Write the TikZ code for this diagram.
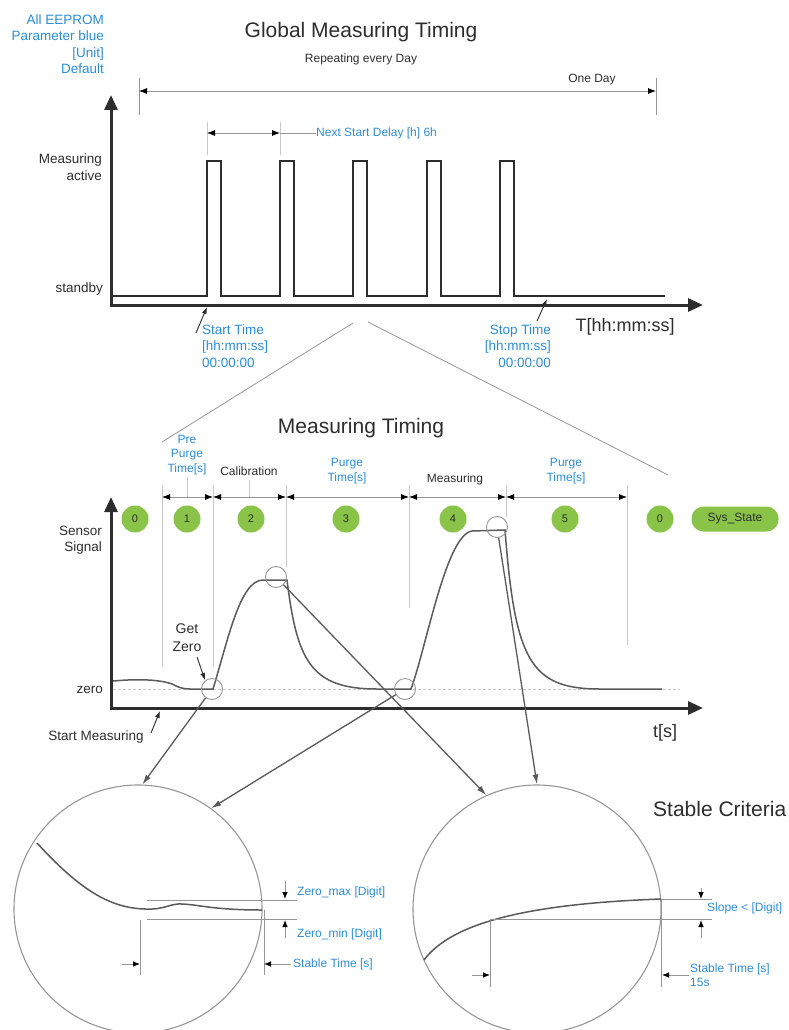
\documentclass[tikz,border=0pt]{standalone}
\usepackage{fontspec}
\setmainfont{Liberation Sans}
\usetikzlibrary{arrows.meta}
\definecolor{pblue}{RGB}{45,140,215}
\definecolor{sgreen}{RGB}{137,196,72}
\definecolor{dk}{RGB}{45,45,45}
\definecolor{lg}{RGB}{200,200,200}
\definecolor{cg}{RGB}{90,90,90}
\definecolor{mg}{RGB}{150,150,150}
\begin{document}
\begin{tikzpicture}[x=1pt,y=-1pt,
  txt/.style={inner sep=0pt, text=dk},
  f12/.style={font=\fontsize{12}{14.5}\selectfont},
  f13/.style={font=\fontsize{13.5}{16.5}\selectfont},
  f18/.style={font=\fontsize{18}{21}\selectfont},
  ttl/.style={inner sep=0pt, text=dk, font=\fontsize{21}{24}\selectfont},
  bl/.style={inner sep=0pt, text=pblue},
  axisline/.style={line width=3pt, draw=dk, -{Triangle[length=15pt,width=13pt]}},
  pulse/.style={line width=2pt, draw=dk, line join=miter},
  sig/.style={line width=1.5pt, draw=cg},
  guide/.style={draw=lg, line width=0.9pt},
  thinl/.style={draw=mg, line width=0.8pt},
  dimarrow/.style={draw=mg, line width=0.8pt, {Latex[length=8pt,width=6pt,color=black]}-{Latex[length=8pt,width=6pt,color=black]}},
  tipa/.style={draw=dk, line width=0.9pt, -{Latex[length=7pt,width=5pt]}},
  smalla/.style={draw=mg, line width=0.8pt, -{Latex[length=7pt,width=5.5pt,color=black]}},
  conn/.style={draw=cg, line width=1.3pt, -{Latex[length=10pt,width=6pt]}},
  zc/.style={circle, draw=mg, line width=0.9pt, minimum size=21pt, inner sep=0pt},
  bigc/.style={circle, draw=mg, line width=1.1pt, minimum size=248pt, inner sep=0pt},
  state/.style={circle, fill=sgreen, minimum size=27pt, inner sep=0pt, text=dk, font=\fontsize{11}{12}\selectfont},
]
\useasboundingbox (0,0) rectangle (789,1030);

% ---------- legend and titles ----------
\node[bl, f13, align=right, anchor=east] (legend) at (104,44) {All EEPROM\\Parameter blue\\{[Unit]}\\Default};
\node[ttl] (gtitle) at (361,32) {Global Measuring Timing};
\node[txt, f12] (repeat) at (361,59) {Repeating every Day};
\node[txt, f12] (oneday) at (592,80) {One Day};

% one day span
\draw[thinl] (139,78) -- (139,115);
\draw[thinl] (656,78) -- (656,115);
\coordinate (dayL) at (139,91);
\coordinate (dayR) at (656,91);
\draw[dimarrow] (dayL) -- (dayR);

% next start delay
\draw[guide] (207,122) -- (207,155);
\draw[guide] (280,122) -- (280,155);
\coordinate (nsL) at (207,133);
\coordinate (nsR) at (280,133);
\draw[dimarrow] (nsL) -- (nsR);
\node[bl, f12, anchor=west] (nsd) at (316,133) {Next Start Delay [h] 6h};
\draw[thinl] (nsR) -- (nsd.west);

% ---------- global chart ----------
\coordinate (o1) at (111,305);
\coordinate (y1) at (111,95);
\coordinate (x1) at (703,305);
\draw[axisline] ([yshift=-1.5pt]o1) -- (y1);
\draw[axisline] ([xshift=-1.5pt]o1) -- (x1);

\draw[pulse] (113,296) -- (207,296) -- (207,161) -- (221,161) -- (221,296)
  -- (280,296) -- (280,161) -- (294,161) -- (294,296)
  -- (353,296) -- (353,161) -- (367,161) -- (367,296)
  -- (427,296) -- (427,161) -- (441,161) -- (441,296)
  -- (500,296) -- (500,161) -- (514,161) -- (514,296) -- (665,296);

\node[txt, f13, align=right, anchor=east] (mact) at (102,167) {Measuring\\active};
\node[txt, f13, anchor=east] (stby) at (103,289) {standby};

\node[bl, f13, align=left, anchor=west] (sttime) at (202,346) {Start Time\\{[hh:mm:ss]}\\00:00:00};
\coordinate (stA) at (196,333);
\coordinate (stB) at (207,307);
\draw[tipa] (stA) -- (stB);

\node[bl, f13, align=right, anchor=east] (sptime) at (551,346) {Stop Time\\{[hh:mm:ss]}\\00:00:00};
\coordinate (spA) at (537,321);
\coordinate (spB) at (547,299);
\draw[tipa] (spA) -- (spB);

\node[txt, f18] (Tlab) at (625,327) {T[hh:mm:ss]};

% zoom lines
\coordinate (zl1) at (353,323);
\coordinate (zl2) at (162,442);
\coordinate (zr1) at (368,322);
\coordinate (zr2) at (668,475);
\draw[thinl] (zl1) -- (zl2);
\draw[thinl] (zr1) -- (zr2);

% ---------- measuring timing ----------
\node[ttl] (mtitle) at (361,428) {Measuring Timing};

\draw[guide] (162,485) -- (162,667);
\draw[guide] (213,485) -- (213,667);
\draw[guide] (286,485) -- (286,567);
\draw[guide] (409,485) -- (409,608);
\draw[guide] (506,485) -- (506,517);
\draw[guide] (627,485) -- (627,645);
\draw[guide] (187,477) -- (187,497);
\draw[guide] (249,480) -- (249,497);

\coordinate (b0) at (162,497);
\coordinate (b1) at (213,497);
\coordinate (b2) at (286,497);
\coordinate (b3) at (409,497);
\coordinate (b4) at (506,497);
\coordinate (b5) at (627,497);
\draw[dimarrow] (b0) -- (b1);
\draw[dimarrow] (b1) -- (b2);
\draw[dimarrow] (b2) -- (b3);
\draw[dimarrow] (b3) -- (b4);
\draw[dimarrow] (b4) -- (b5);

\node[bl, f12, align=center] (ppt) at (187,455) {Pre\\Purge\\Time[s]};
\node[txt, f12] (calib) at (249,471) {Calibration};
\node[bl, f12, align=center] (pt1) at (347,471) {Purge\\Time[s]};
\node[txt, f12] (meas) at (455,479) {Measuring};
\node[bl, f12, align=center] (pt2) at (566,471) {Purge\\Time[s]};

\node[state] (s0) at (135,519) {0};
\node[state] (s1) at (187,519) {1};
\node[state] (s2) at (251,519) {2};
\node[state] (s3) at (346,519) {3};
\node[state] (s4) at (453,519) {4};
\node[state] (s5) at (565,519) {5};
\node[state] (s6) at (660,519) {0};
\node[fill=sgreen, rounded corners=12pt, minimum width=87pt, minimum height=25pt, inner sep=0pt, text=dk, font=\fontsize{12}{14}\selectfont] (sys) at (735,519) {Sys\_State};

\node[txt, f13, align=right, anchor=east] (sens) at (102,540) {Sensor\\Signal};

\coordinate (o2) at (111,708);
\coordinate (y2) at (111,497);
\coordinate (x2) at (703,708);
\draw[axisline] ([yshift=-1.5pt]o2) -- (y2);
\draw[axisline] ([xshift=-1.5pt]o2) -- (x2);

\draw[draw=lg, line width=0.9pt, dash pattern=on 3pt off 2pt] (113,689) -- (680,689);
\node[txt, f13, anchor=east] (zerol) at (103,690) {zero};

\draw[sig] (113,681) .. controls (135,679) and (158,679) .. (172,684)
  .. controls (178,687) and (182,689) .. (190,689) -- (213,689)
  .. controls (228,640) and (240,580) .. (263,580) -- (287,580)
  .. controls (297,660) and (310,689) .. (377,689) -- (411,689)
  .. controls (427,645) and (446,535) .. (472,531) -- (505,530)
  .. controls (515,660) and (530,689) .. (600,689) -- (662,689);

\node[zc] (z1) at (212,689) {};
\node[zc] (z2) at (276,577) {};
\node[zc] (z3) at (405,689) {};
\node[zc] (z4) at (497,527) {};

\node[txt, font=\fontsize{14}{18}\selectfont, align=center] (gz) at (187,638) {Get\\Zero};
\coordinate (gzA) at (197,657);
\coordinate (gzB) at (205,680);
\draw[tipa] (gzA) -- (gzB);

\node[txt, f13] (stm) at (96,737) {Start Measuring};
\coordinate (smA) at (151,733);
\coordinate (smB) at (160,711);
\draw[tipa] (smA) -- (smB);

\node[txt, f18] (tlab) at (665,733) {t[s]};

% ---------- detail circles ----------
\node[bigc] (bigL) at (138,909) {};
\node[bigc] (bigR) at (537,909) {};

\draw[conn] (z1) -- (bigL.88);
\draw[conn] (z3) -- (bigL.54);
\draw[conn] (z2) -- (bigR.114);
\draw[conn] (z4) -- (bigR.90);

% left detail
\draw[sig] (37,843) .. controls (80,890) and (110,908) .. (145,909)
  .. controls (165,910) and (170,903) .. (183,904)
  .. controls (200,905) and (215,910) .. (262,910);
\draw[thinl] (147,900) -- (297,900);
\draw[thinl] (147,919) -- (297,919);
\draw[thinl] (140,920) -- (140,975);
\draw[thinl] (264,910) -- (264,975);
\draw[smalla] (285,881) -- (285,899);
\draw[smalla] (285,938) -- (285,920);
\draw[smalla] (122,964) -- (140,964);
\draw[smalla] (291,964) -- (264,964);
\node[bl, f12, anchor=west] (zmax) at (297,892) {Zero\_max [Digit]};
\node[bl, f12, anchor=west] (zmin) at (297,934) {Zero\_min [Digit]};
\node[bl, f12, anchor=west] (stl) at (293,964) {Stable Time [s]};

% right detail
\draw[sig] (424,960) .. controls (450,925) and (520,904) .. (661,899);
\draw[thinl] (661,899) -- (712,899);
\draw[thinl] (490,919) -- (712,919);
\draw[thinl] (490,919) -- (490,987);
\draw[thinl] (661,899) -- (661,987);
\draw[smalla] (701,888) -- (701,899);
\draw[smalla] (701,938) -- (701,920);
\draw[smalla] (472,975) -- (490,975);
\draw[smalla] (689,975) -- (662,975);
\node[bl, f12, anchor=west] (slope) at (707,908) {Slope < [Digit]};
\node[bl, f12, align=left, anchor=west] (str) at (690,975) {Stable Time [s]\\15s};
\node[ttl, anchor=west] (stc) at (653,809) {Stable Criteria};

\end{tikzpicture}
\end{document}
